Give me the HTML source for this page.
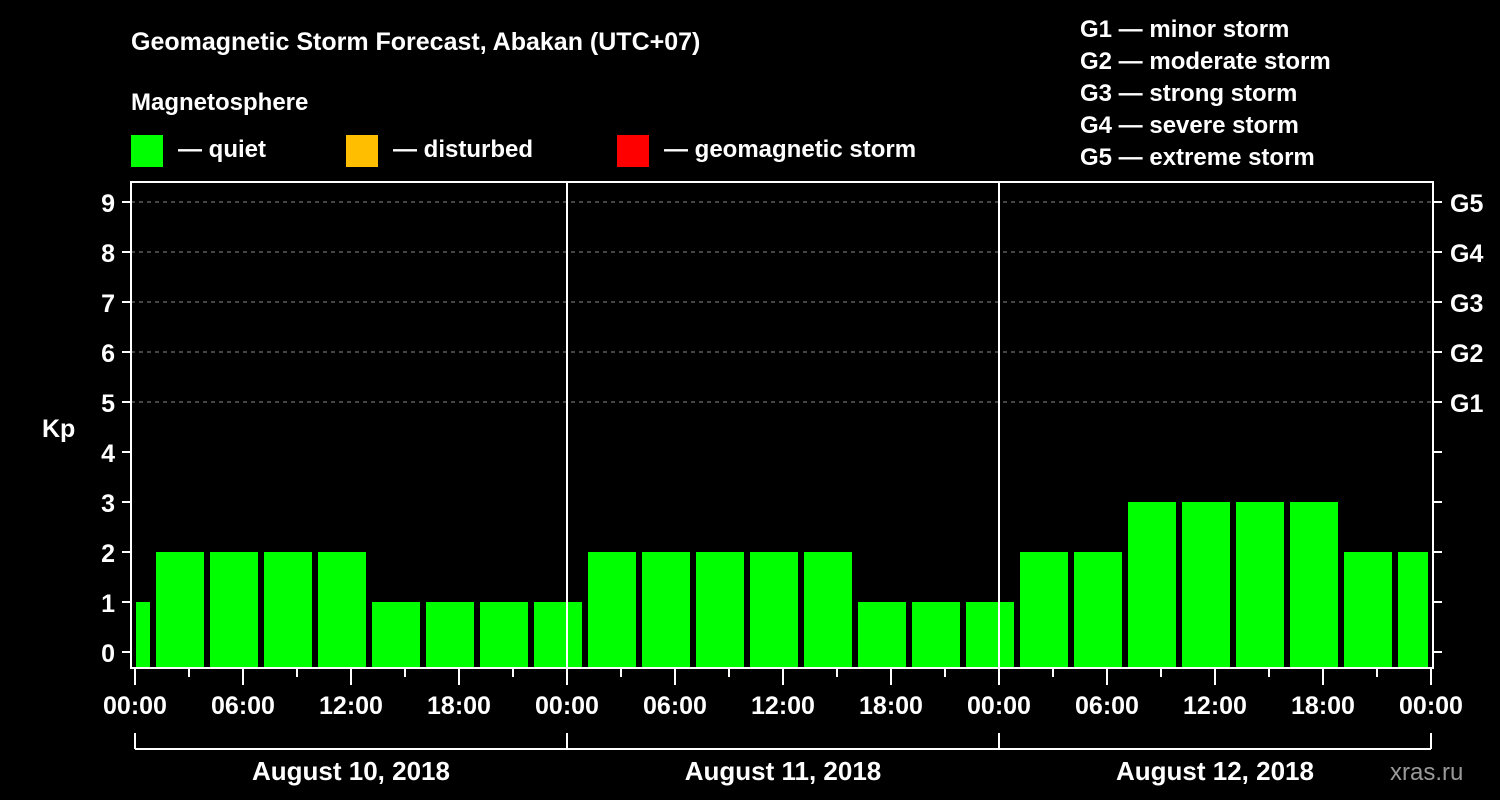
<!DOCTYPE html>
<html><head><meta charset="utf-8"><style>
html,body{margin:0;padding:0;background:#000;}
svg{display:block;font-family:"Liberation Sans",sans-serif;font-weight:bold;}
</style></head><body>
<svg id="chart" width="1500" height="800" viewBox="0 0 1500 800">
<rect width="1500" height="800" fill="#000"/>
<text x="131" y="50" fill="#fff" font-size="25">Geomagnetic Storm Forecast, Abakan (UTC+07)</text>
<text x="131" y="110" fill="#fff" font-size="24">Magnetosphere</text>
<g><rect x="131" y="135" width="32" height="32" fill="#00ff00"/><text x="178" y="157" fill="#fff" font-size="24">— quiet</text></g>
<g><rect x="346" y="135" width="32" height="32" fill="#ffbf00"/><text x="393" y="157" fill="#fff" font-size="24">— disturbed</text></g>
<g><rect x="617" y="135" width="32" height="32" fill="#ff0000"/><text x="664" y="157" fill="#fff" font-size="24">— geomagnetic storm</text></g>
<g fill="#fff" font-size="24">
<text x="1080" y="37">G1 — minor storm</text>
<text x="1080" y="69">G2 — moderate storm</text>
<text x="1080" y="101">G3 — strong storm</text>
<text x="1080" y="133">G4 — severe storm</text>
<text x="1080" y="165">G5 — extreme storm</text>
</g>
<text x="42" y="437" fill="#fff" font-size="25">Kp</text>
<text x="1390" y="780" fill="#999" font-size="24" font-weight="normal">xras.ru</text>
<g id="grid"></g><g id="bars"></g><g id="axes"></g>
</svg>
<script>
const kpValues=[1,2,2,2,2,1,1,1,1,2,2,2,2,2,1,1,1,2,2,3,3,3,3,2,2];
const barStartHours=[-2,1,4,7,10,13,16,19,22,25,28,31,34,37,40,43,46,49,52,55,58,61,64,67,70];
const yTicks=[0,1,2,3,4,5,6,7,8,9];
const gLabels=["G1","G2","G3","G4","G5"];
const gLevels=[5,6,7,8,9];
const dayLabels=["August 10, 2018","August 11, 2018","August 12, 2018"];
const hourLabels=["00:00","06:00","12:00","18:00"];
const NS="http://www.w3.org/2000/svg";
const L=131,R=1433,T=182,B=668;
const x=h=>135+h*(1296/72);
const y=v=>652-v*50;
function mk(tag,attrs,parent){const e=document.createElementNS(NS,tag);for(const k in attrs)e.setAttribute(k,attrs[k]);parent.appendChild(e);return e;}
const grid=document.getElementById('grid'),bars=document.getElementById('bars'),axes=document.getElementById('axes');
gLevels.forEach((v,i)=>{
 const g=mk('line',{x1:L,x2:R,y1:y(v),y2:y(v),stroke:'#888','stroke-dasharray':'4,4','stroke-width':1},grid);
 
 
 const t=mk('text',{x:1450,y:y(v)+10,fill:'#fff','font-size':25},axes);t.textContent=gLabels[i];
 
 
});
kpValues.forEach((v,i)=>{
 let x0=Math.max(x(barStartHours[i])+3,L+5),x1=Math.min(x(barStartHours[i]+3)-3,R-5);
 const r=mk('rect',{x:x0,y:y(v),width:x1-x0,height:B-y(v),fill:v>=5?'#ff0000':(v>=4?'#ffbf00':'#00ff00')},bars);
 
 
});
const fr=mk('rect',{x:L,y:T,width:R-L,height:B-T,fill:'none',stroke:'#fff','stroke-width':2},axes);


[24,48].forEach(h=>{const l=mk('line',{x1:x(h),x2:x(h),y1:T,y2:B,stroke:'#fff','stroke-width':2},axes);
 
 });
yTicks.forEach(v=>{
 mk('line',{x1:L-9,x2:L,y1:y(v),y2:y(v),stroke:'#fff','stroke-width':2},axes);
 mk('line',{x1:R,x2:R+9,y1:y(v),y2:y(v),stroke:'#fff','stroke-width':2},axes);
 const t=mk('text',{x:115,y:y(v)+10,fill:'#fff','font-size':25,'text-anchor':'end'},axes);t.textContent=v;
 
 
});
for(let h=0;h<=72;h+=3){
 const major=h%6===0;
 mk('line',{x1:x(h),x2:x(h),y1:B,y2:B+(major?17:9),stroke:'#fff','stroke-width':2},axes);
 if(major){const t=mk('text',{x:x(h),y:714,fill:'#fff','font-size':25,'text-anchor':'middle'},axes);
  t.textContent=hourLabels[(h/6)%4];
  
  }
}
mk('line',{x1:x(0),x2:x(72),y1:749,y2:749,stroke:'#fff','stroke-width':2},axes);
for(let d=0;d<=3;d++)mk('line',{x1:x(d*24),x2:x(d*24),y1:733,y2:749,stroke:'#fff','stroke-width':2},axes);
dayLabels.forEach((s,d)=>{const t=mk('text',{x:x(d*24+12),y:780,fill:'#fff','font-size':26,'text-anchor':'middle'},axes);t.textContent=s;
 
 });
</script>
</body></html>
